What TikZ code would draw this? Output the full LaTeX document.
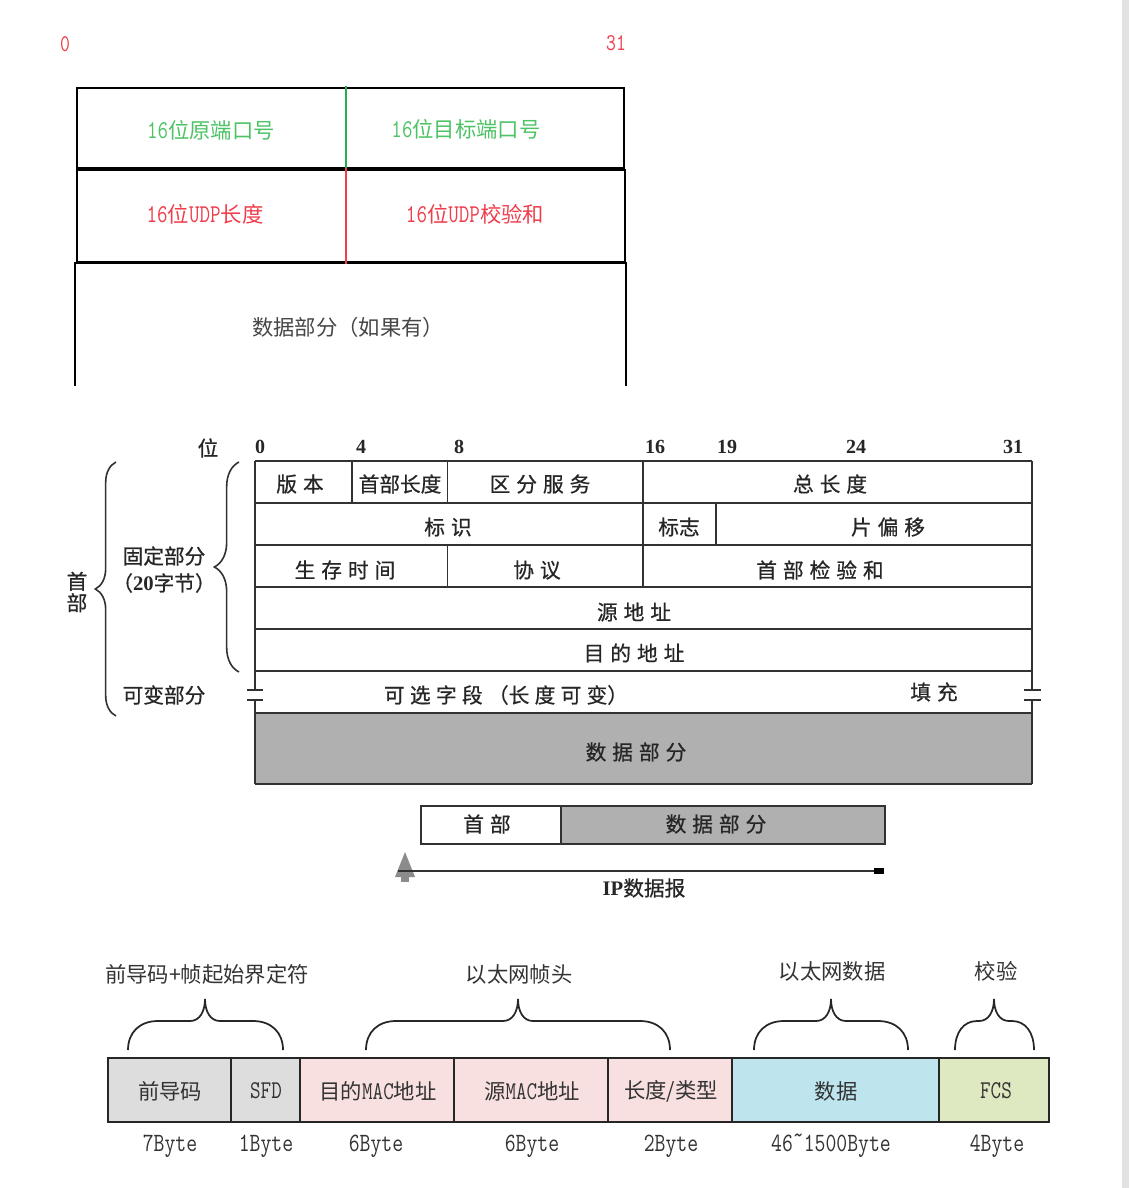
\documentclass[tikz,border=0pt]{standalone}
\usepackage{fontspec}
\setmainfont{Noto Sans CJK SC}
\newfontfamily\nm[FakeStretch=0.8,Scale=1.2]{Latin Modern Mono}
\newfontfamily\sr{Liberation Serif}
\newfontfamily\ipf[FakeBold=0.7]{Noto Sans CJK SC}
\usetikzlibrary{decorations.pathreplacing}
\newcommand\ipg{\hspace{4.5pt}}
\newcommand\ethbrace[4]{%
  \draw[brc] (#1,1050) .. controls (#1,1032) and (#1+#4*0.4,1021) .. (#1+#4,1021)
    -- (#3-15,1021) .. controls (#3-5,1021) and (#3,1011) .. (#3,999)
    .. controls (#3,1011) and (#3+5,1021) .. (#3+15,1021)
    -- (#2-#4,1021) .. controls (#2-#4*0.4,1021) and (#2,1032) .. (#2,1050);}
\definecolor{ugreen}{RGB}{76,195,100}
\definecolor{uline}{RGB}{40,175,70}
\definecolor{ured}{RGB}{240,60,75}
\definecolor{ugray}{RGB}{70,70,70}
\definecolor{ipline}{RGB}{50,50,50}
\definecolor{gfill}{RGB}{176,176,176}
\definecolor{epre}{RGB}{221,221,221}
\definecolor{emac}{RGB}{248,224,224}
\definecolor{edata}{RGB}{190,228,238}
\definecolor{efcs}{RGB}{222,233,194}
\definecolor{strip}{RGB}{226,226,226}
\tikzset{
  udpline/.style={line width=1.9pt,black},
  udptxt/.style={inner sep=0,font=\fontsize{16}{19}\selectfont},
  ipl/.style={line width=1.1pt,ipline},
  iptxt/.style={inner sep=0,text=black!85,font=\ipf\fontsize{15.5}{18}\selectfont},
  ipnum/.style={inner sep=0,text=black!85,font=\sr\bfseries\fontsize{15}{18}\selectfont},
  ebox/.style={line width=1.5pt,draw=black!85},
  etxt/.style={inner sep=0,text=black!80,font=\fontsize{16}{19}\selectfont},
  btxt/.style={inner sep=0,text=black!80,font=\nm\fontsize{16.5}{20}\selectfont},
  brc/.style={line width=1.3pt,black!85},
}
\begin{document}
\begin{tikzpicture}[x=0.75pt,y=-0.75pt]
\useasboundingbox (0,0) rectangle (1129,1188);
\fill[white] (0,0) rectangle (1129,1188);
\fill[strip] (1122,0) rectangle (1129,1188);

% ---------------- UDP ----------------
\node[udptxt,text=ured,font=\nm\fontsize{15}{18}\selectfont] (u0) at (65,44) {0};
\node[udptxt,text=ured,font=\nm\fontsize{15}{18}\selectfont] (u31) at (616,43) {31};
\draw[udpline] (77,88) rectangle (624,168);
\draw[udpline] (77,170) rectangle (625,262);
\draw[udpline] (75,386) -- (75,263) -- (626,263) -- (626,386);
\draw[line width=1.6pt,uline] (346,86) -- (346,168);
\draw[line width=1.6pt,ured] (346,168) -- (346,264);
\node[udptxt,text=ugreen] (srcport) at (211,130) {{\nm 16}位原端口号};
\node[udptxt,text=ugreen] (dstport) at (466,129) {{\nm 16}位目标端口号};
\node[udptxt,text=ured] (ulen) at (205,214) {{\nm 16}位{\nm UDP}长度};
\node[udptxt,text=ured] (usum) at (475,214) {{\nm 16}位{\nm UDP}校验和};
\node[udptxt,text=ugray] (udata) at (348,327) {数据部分（如果有）};

% ---------------- IP header ----------------
\node[iptxt] (wei) at (208,448) {位};
\node[ipnum] (n0) at (260,447) {0};
\node[ipnum] (n4) at (361,447) {4};
\node[ipnum] (n8) at (459,447) {8};
\node[ipnum] (n16) at (655,447) {16};
\node[ipnum] (n19) at (727,447) {19};
\node[ipnum] (n24) at (856,447) {24};
\node[ipnum] (n31) at (1013,447) {31};

\fill[gfill] (255,713) rectangle (1032,784);
\foreach \yy in {461,503,545,587,629,671,713,784}
  \draw[ipl] (255,\yy) -- (1032,\yy);
\draw[ipl] (255,461) -- (255,690) (255,700) -- (255,784);
\draw[ipl] (1032,461) -- (1032,690) (1032,700) -- (1032,784);
\draw[ipl] (247,690) -- (263,690) (247,700) -- (263,700);
\draw[ipl] (1024,690) -- (1041,690) (1024,700) -- (1041,700);
\draw[ipl] (352,461) -- (352,503);
\draw[ipl] (447.5,461) -- (447.5,503);
\draw[ipl] (643,461) -- (643,587);
\draw[ipl] (716,503) -- (716,545);
\draw[ipl] (447.5,545) -- (447.5,587);

\node[iptxt] (ver) at (300,484) {版\ipg 本};
\node[iptxt] (hlen) at (400,484) {首部长度};
\node[iptxt] (ds) at (540,484) {区\ipg 分\ipg 服\ipg 务};
\node[iptxt] (tlen) at (830,484) {总\ipg 长\ipg 度};
\node[iptxt] (ident) at (448,527) {标\ipg 识};
\node[iptxt] (flag) at (679,527) {标志};
\node[iptxt] (frag) at (888,527) {片\ipg 偏\ipg 移};
\node[iptxt] (ttl) at (345,570) {生\ipg 存\ipg 时\ipg 间};
\node[iptxt] (proto) at (537,570) {协\ipg 议};
\node[iptxt] (hsum) at (820,570) {首\ipg 部\ipg 检\ipg 验\ipg 和};
\node[iptxt] (srcip) at (634,612) {源\ipg 地\ipg 址};
\node[iptxt] (dstip) at (634,653) {目\ipg 的\ipg 地\ipg 址};
\node[iptxt] (opt) at (506,695) {可\hspace{4pt}选\hspace{4pt}字\hspace{4pt}段\hspace{4pt}（长\hspace{4pt}度\hspace{4pt}可\hspace{4pt}变）};
\node[iptxt] (pad) at (934,692) {填\ipg 充};
\node[iptxt] (ipdata) at (636,752) {数\ipg 据\ipg 部\ipg 分};

% braces
\draw[ipl,line width=1.2pt,decorate,decoration={brace,amplitude=15.5pt}] (116,716) -- (116,462);
\draw[ipl,line width=1.2pt,decorate,decoration={brace,amplitude=18.5pt}] (239,672) -- (239,462);
\node[iptxt,align=center,font=\ipf\fontsize{15.5}{16}\selectfont] (hdr) at (77,592) {首\\部};
\node[iptxt] (fixed) at (164,556) {固定部分};
\node[iptxt] (fixed20) at (164,583) {（{\sr\bfseries 20}字节）};
\node[iptxt] (var) at (164,695) {可变部分};

% ---------------- IP datagram ----------------
\draw[ipl] (421,806) rectangle (561,844);
\draw[ipl,fill=gfill] (561,806) rectangle (885,844);
\node[iptxt] (dghdr) at (487,824) {首\ipg 部};
\node[iptxt] (dgdata) at (716,824) {数\ipg 据\ipg 部\ipg 分};
\fill[black!45] (405,852) -- (395,877) -- (415,877) -- cycle;
\fill[black!45] (401,877) rectangle (409,882);
\coordinate (ipL) at (398,871);
\node[fill=black,inner sep=0,minimum width=7.5pt,minimum height=5pt] (ipR) at (879,871) {};
\draw[ipl,line width=1.5pt] (ipL) -- (ipR);
\node[iptxt] (iplbl) at (644,888) {{\sr\bfseries IP}数据报};

% ---------------- Ethernet frame ----------------
\draw[ebox,fill=epre] (108,1058) rectangle (231,1122);
\draw[ebox,fill=epre] (231,1058) rectangle (300,1122);
\draw[ebox,fill=emac] (300,1058) rectangle (454,1122);
\draw[ebox,fill=emac] (454,1058) rectangle (608,1122);
\draw[ebox,fill=emac] (608,1058) rectangle (732,1122);
\draw[ebox,fill=edata] (732,1058) rectangle (939,1122);
\draw[ebox,fill=efcs] (939,1058) rectangle (1049,1122);
\node[etxt] (pre) at (170,1091) {前导码};
\node[etxt] (sfd) at (266,1091) {{\nm SFD}};
\node[etxt] (dmac) at (378,1091) {目的{\nm MAC}地址};
\node[etxt] (smac) at (532,1091) {源{\nm MAC}地址};
\node[etxt] (ltype) at (671,1091) {长度/类型};
\node[etxt] (edat) at (836,1091) {数据};
\node[etxt] (fcs) at (996,1091) {{\nm FCS}};

\node[btxt] (b7) at (170,1146) {7Byte};
\node[btxt] (b1) at (266,1146) {1Byte};
\node[btxt] (b6a) at (376,1146) {6Byte};
\node[btxt] (b6b) at (532,1146) {6Byte};
\node[btxt] (b2) at (671,1146) {2Byte};
\node[btxt] (b46) at (831,1146) {46\raisebox{0.3em}{\textasciitilde}1500Byte};
\node[btxt] (b4) at (997,1146) {4Byte};

\ethbrace{128}{283}{205}{30}
\ethbrace{366}{670}{518}{30}
\ethbrace{754}{908}{831}{30}
\ethbrace{955}{1034}{994}{22}

\node[etxt] (lpre) at (207,974) {前导码+帧起始界定符};
\node[etxt] (lhdr) at (519,974) {以太网帧头};
\node[etxt] (ldat) at (832,971) {以太网数据};
\node[etxt] (lfcs) at (996,971) {校验};
\end{tikzpicture}
\end{document}
